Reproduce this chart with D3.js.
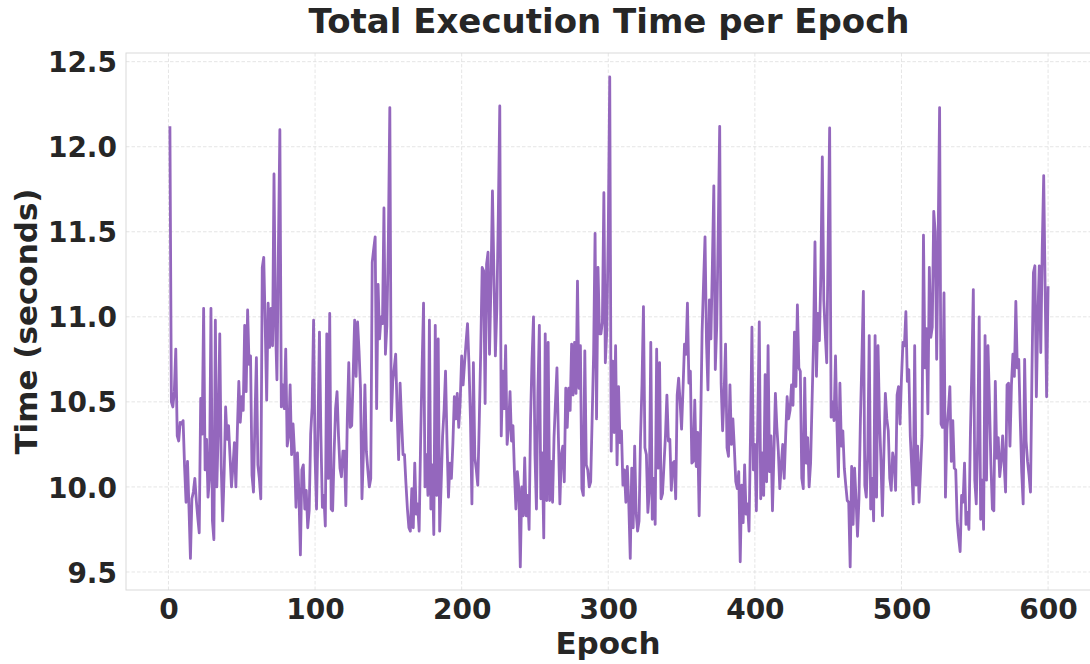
<!DOCTYPE html>
<html>
<head>
<meta charset="utf-8">
<script src="https://cdn.jsdelivr.net/npm/d3@7"></script>
<style>
  html, body { margin: 0; padding: 0; background: #ffffff; }
  svg { display: block; }
  text { font-family: "DejaVu Sans", sans-serif; font-weight: bold; fill: #262626; }
</style>
</head>
<body>
<svg id="chart" width="1090" height="664"></svg>
<script>
// ---------- DATA ----------
const chartTitle = "Total Execution Time per Epoch";
const xLabel = "Epoch";
const yLabel = "Time (seconds)";
const firstEpoch = 1;
const xTicks = [0, 100, 200, 300, 400, 500, 600];
const yTicks = [9.5, 10.0, 10.5, 11.0, 11.5, 12.0, 12.5];

const timesEpochs001to100 = [
  12.12, 10.50, 10.47, 10.56, 10.81, 10.30, 10.27, 10.38, 10.37, 10.39,
  10.12, 9.91, 10.15, 9.88, 9.58, 9.93, 9.97, 10.05, 9.92, 9.82,
  9.73, 10.52, 10.31, 11.05, 10.10, 10.28, 9.94, 10.05, 11.05, 9.80,
  9.69, 10.98, 10.00, 10.35, 10.90, 10.12, 9.80, 10.08, 10.47, 10.28,
  10.36, 10.18, 10.00, 10.12, 10.26, 10.00, 10.33, 10.62, 10.38, 10.53,
  10.45, 10.95, 10.56, 11.04, 10.72, 10.77, 10.07, 9.97, 10.40, 10.76,
  10.13, 10.05, 9.93, 11.29, 11.35, 10.95, 10.51, 11.08, 10.82, 11.05,
  10.83, 11.84, 10.95, 10.63, 11.40, 12.10, 10.47, 10.60, 10.46, 10.81,
  10.24, 10.30, 10.60, 10.19, 10.37, 10.20, 9.88, 10.20, 9.96, 9.60,
  10.10, 10.13, 9.87, 9.98, 9.76, 9.86, 10.31, 10.47, 10.98, 10.18
];
const timesEpochs101to200 = [
  9.87, 10.35, 10.91, 10.30, 9.88, 9.95, 9.77, 10.90, 10.05, 11.02,
  9.87, 9.86, 10.20, 10.46, 10.56, 10.30, 10.11, 10.06, 10.21, 10.21,
  9.89, 10.40, 10.73, 10.35, 10.36, 10.66, 10.98, 10.65, 10.97, 10.80,
  10.58, 9.93, 10.20, 10.60, 10.21, 10.10, 10.00, 10.05, 11.32, 11.40,
  11.47, 10.46, 11.19, 10.87, 11.00, 10.96, 11.64, 10.78, 10.95, 11.45,
  12.23, 10.39, 10.62, 10.70, 10.78, 10.44, 10.16, 10.61, 10.39, 10.19,
  10.19, 10.02, 9.87, 9.76, 9.74, 9.99, 9.76, 10.14, 9.84, 9.90,
  9.74, 10.27, 10.70, 11.08, 10.00, 10.19, 9.95, 10.98, 9.87, 10.13,
  9.72, 10.95, 9.95, 10.87, 9.74, 10.01, 10.30, 10.45, 10.68, 10.27,
  9.94, 10.14, 10.05, 10.25, 10.53, 10.40, 10.55, 10.35, 10.50, 10.77
];
const timesEpochs201to300 = [
  10.60, 10.73, 10.85, 10.96, 10.72, 10.40, 9.90, 10.73, 10.17, 10.10,
  10.01, 10.38, 10.80, 11.29, 11.27, 10.49, 11.31, 11.38, 10.78, 11.20,
  11.74, 11.25, 10.77, 11.05, 11.60, 12.24, 10.30, 10.68, 10.46, 10.83,
  10.25, 10.35, 10.56, 10.27, 10.36, 10.09, 9.87, 10.09, 9.99, 9.53,
  10.00, 9.83, 10.17, 9.83, 9.95, 9.75, 10.40, 10.75, 11.00, 10.19,
  9.87, 10.56, 10.95, 9.93, 10.20, 9.70, 10.90, 9.92, 10.85, 9.92,
  10.15, 9.91, 10.29, 10.50, 10.70, 10.29, 9.90, 10.19, 10.24, 10.03,
  10.58, 10.35, 10.58, 10.45, 10.84, 10.54, 10.85, 10.55, 11.21, 10.58,
  10.83, 9.99, 9.95, 10.80, 10.13, 10.10, 10.00, 10.03, 10.40, 10.78,
  11.49, 10.40, 11.29, 10.90, 10.90, 10.97, 11.73, 10.73, 10.92, 11.50
];
const timesEpochs301to400 = [
  12.41, 10.21, 10.74, 10.32, 10.83, 10.13, 10.59, 10.26, 10.33, 10.01,
  10.10, 9.91, 10.12, 9.90, 9.58, 10.11, 9.76, 10.24, 9.85, 9.74,
  9.80, 10.29, 10.60, 11.06, 10.23, 10.19, 9.85, 9.97, 10.85, 9.81,
  10.05, 9.78, 10.81, 10.11, 10.73, 9.93, 9.96, 10.13, 10.30, 10.54,
  10.27, 10.28, 9.98, 10.14, 10.15, 9.93, 10.54, 10.64, 10.50, 10.34,
  10.58, 10.84, 10.78, 11.08, 10.61, 10.68, 10.14, 10.15, 10.51, 10.12,
  10.32, 9.83, 10.35, 10.91, 11.20, 11.47, 10.85, 10.57, 11.10, 10.87,
  11.30, 11.77, 10.69, 10.95, 11.50, 12.12, 10.61, 10.33, 10.55, 10.84,
  10.23, 10.18, 10.60, 10.25, 10.40, 10.23, 10.03, 9.99, 10.09, 9.56,
  10.01, 9.79, 10.13, 9.84, 9.90, 9.74, 10.30, 10.94, 10.10, 10.25
];
const timesEpochs401to500 = [
  9.86, 10.40, 10.97, 9.93, 10.20, 9.95, 10.66, 10.03, 10.83, 10.09,
  10.30, 9.86, 10.20, 10.55, 10.35, 10.21, 9.99, 10.13, 10.25, 10.05,
  10.30, 10.53, 10.40, 10.45, 10.60, 10.48, 10.91, 10.59, 11.07, 10.70,
  10.68, 10.05, 9.99, 10.64, 10.14, 10.29, 10.00, 10.14, 10.50, 10.85,
  11.44, 10.65, 11.02, 10.86, 11.25, 11.94, 11.10, 10.90, 10.73, 11.45,
  12.11, 10.41, 10.50, 10.39, 10.77, 10.36, 10.06, 10.61, 10.24, 10.33,
  10.11, 10.01, 9.92, 9.91, 9.53, 10.12, 9.78, 10.11, 9.93, 9.71,
  9.93, 10.40, 10.75, 11.15, 10.01, 9.94, 10.20, 10.89, 9.87, 10.05,
  9.80, 10.89, 9.94, 10.83, 10.40, 10.15, 9.83, 10.20, 10.55, 10.40,
  10.33, 10.05, 9.98, 10.20, 10.15, 9.98, 10.54, 10.59, 10.37, 10.64
];
const timesEpochs501to600 = [
  10.85, 10.83, 11.03, 10.62, 10.69, 10.30, 10.11, 9.90, 10.83, 10.01,
  10.24, 9.91, 10.10, 10.30, 11.48, 10.70, 10.93, 10.43, 11.29, 10.88,
  10.94, 11.62, 11.50, 10.75, 11.45, 12.23, 10.37, 10.35, 11.14, 9.94,
  10.34, 10.45, 10.59, 10.15, 10.39, 10.11, 10.10, 9.80, 9.70, 9.62,
  9.95, 9.91, 10.14, 9.78, 9.85, 9.75, 10.31, 10.70, 11.16, 10.04,
  9.90, 10.29, 11.00, 9.81, 10.04, 9.75, 10.89, 10.04, 10.83, 10.50,
  10.13, 9.87, 9.86, 10.62, 10.17, 10.29, 10.06, 10.15, 10.30, 10.14,
  9.97, 10.60, 10.61, 10.24, 10.60, 10.78, 10.65, 11.09, 10.70, 10.75,
  10.40, 10.09, 9.90, 10.75, 10.27, 10.15, 10.07, 9.97, 10.68, 11.26,
  11.30, 10.53, 11.00, 11.30, 10.79, 11.40, 11.83, 11.15, 10.53, 11.18
];

const executionTimes = [].concat(
  timesEpochs001to100, timesEpochs101to200, timesEpochs201to300,
  timesEpochs301to400, timesEpochs401to500, timesEpochs501to600
);
const series = executionTimes.map((v, i) => ({ epoch: firstEpoch + i, time: v }));

// ---------- LAYOUT ----------
const svg = d3.select("#chart");
const plot = { left: 126, right: 1092, top: 53, bottom: 590 };

const xExtent = d3.extent(series, d => d.epoch);
const xPad = (xExtent[1] - xExtent[0]) * 0.05;

const x = d3.scaleLinear()
  .domain([xExtent[0] - xPad, xExtent[1] + xPad])
  .range([plot.left, plot.right]);
const y = d3.scaleLinear()
  .domain([9.394, 12.551])
  .range([plot.bottom, plot.top]);

// grid
const grid = svg.append("g");
grid.selectAll("line.gy").data(yTicks).join("line")
  .attr("x1", plot.left).attr("x2", plot.right)
  .attr("y1", d => y(d)).attr("y2", d => y(d))
  .attr("stroke", "#dedede").attr("stroke-width", 0.8)
  .attr("stroke-dasharray", "3.5,2");
grid.selectAll("line.gx").data(xTicks).join("line")
  .attr("y1", plot.top).attr("y2", plot.bottom)
  .attr("x1", d => x(d)).attr("x2", d => x(d))
  .attr("stroke", "#dedede").attr("stroke-width", 0.8)
  .attr("stroke-dasharray", "3.5,2");

// frame
svg.append("rect")
  .attr("x", plot.left).attr("y", plot.top)
  .attr("width", plot.right - plot.left).attr("height", plot.bottom - plot.top)
  .attr("fill", "none").attr("stroke", "#d9d9d9").attr("stroke-width", 1);

// line
svg.append("path")
  .datum(series)
  .attr("fill", "none")
  .attr("stroke", "#9467bd")
  .attr("stroke-width", 2.8)
  .attr("stroke-linejoin", "round")
  .attr("d", d3.line().x(d => x(d.epoch)).y(d => y(d.time)));

// axes
const xAxis = svg.append("g")
  .attr("transform", `translate(0,${plot.bottom})`)
  .call(d3.axisBottom(x).tickValues(xTicks).tickSize(0).tickPadding(9).tickFormat(d3.format("d")));
const yAxis = svg.append("g")
  .attr("transform", `translate(${plot.left},0)`)
  .call(d3.axisLeft(y).tickValues(yTicks).tickSize(0).tickPadding(9).tickFormat(d3.format(".1f")));
[xAxis, yAxis].forEach(a => {
  a.select(".domain").remove();
  a.selectAll("text").style("font-size", "28px").style("font-family", "DejaVu Sans").style("font-weight", "bold").attr("fill", "#262626");
});
xAxis.selectAll("text").attr("dy", "0.71em");
yAxis.selectAll("text").attr("dy", "0.36em");

// title and labels
svg.append("text")
  .attr("x", 609).attr("y", 33)
  .attr("text-anchor", "middle")
  .style("font-size", "34px")
  .text(chartTitle);
svg.append("text")
  .attr("x", 608).attr("y", 654)
  .attr("text-anchor", "middle")
  .style("font-size", "31px")
  .text(xLabel);
svg.append("text")
  .attr("transform", `translate(37,${(plot.top + plot.bottom) / 2}) rotate(-90)`)
  .attr("text-anchor", "middle")
  .style("font-size", "31px")
  .text(yLabel);
</script>
</body>
</html>
